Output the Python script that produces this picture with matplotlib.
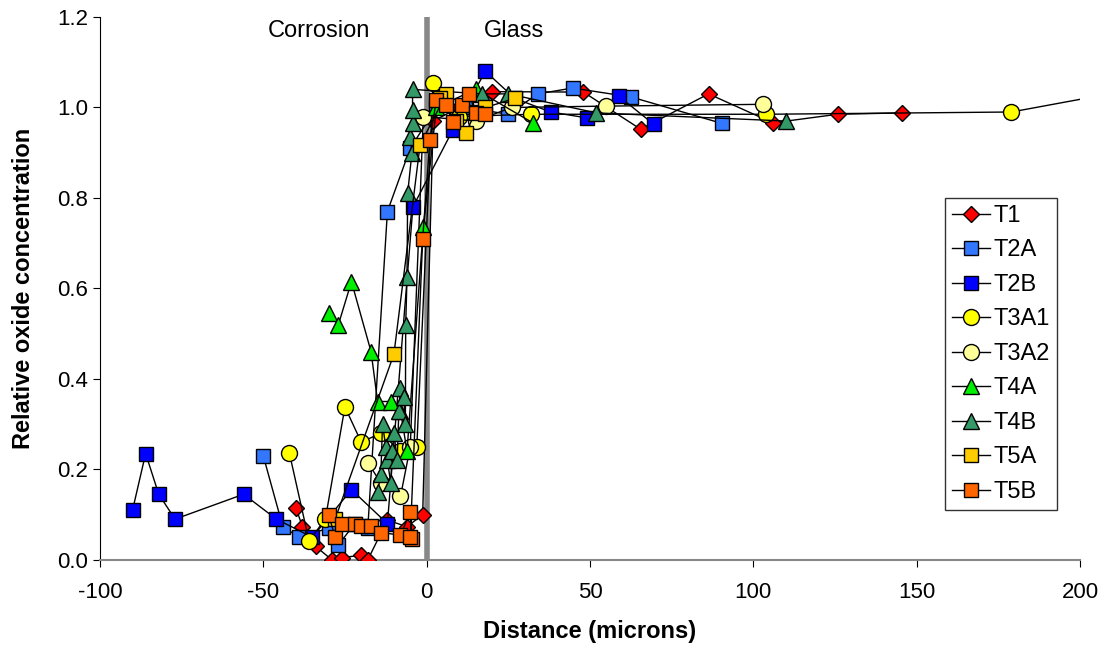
import matplotlib
matplotlib.use("Agg")
import matplotlib.pyplot as plt

plt.rcParams['font.family'] = ['Liberation Sans', 'DejaVu Sans']
plt.rcParams['axes.unicode_minus'] = False

# series data (distance in microns, relative concentration)
T1_x = [-40, -38, -34, -29, -26, -20, -18, -12, -6, -1.2, 2, 10, 20, 48, 65.5, 86.3, 106, 125.8, 145.4]
T1_y = [0.115, 0.073, 0.03, 0.0, 0.005, 0.01, 0.0, 0.088, 0.073, 0.10, 0.97, 1.0, 1.035, 1.034, 0.952, 1.03, 0.966, 0.985, 0.988]

T2A_x = [-50, -44, -39, -30, -27, -22, -18, -12, -5, 3, 12, 25, 34, 44.7, 62.7, 90.3]
T2A_y = [0.23, 0.073, 0.05, 0.07, 0.033, 0.08, 0.07, 0.77, 0.91, 1.0, 1.0, 0.985, 1.03, 1.043, 1.023, 0.965]

T2B_x = [-90, -86, -82, -77, -56, -46, -35, -23, -12, -4.2, 8, 18, 27, 38, 49, 58.8, 69.5]
T2B_y = [0.11, 0.235, 0.145, 0.09, 0.145, 0.09, 0.05, 0.155, 0.08, 0.78, 0.95, 1.08, 1.02, 0.99, 0.977, 1.025, 0.963]

T3A1_x = [-42, -36, -31, -25, -20, -14, -8, -3, 2, 10, 32, 104, 179, 215]
T3A1_y = [0.236, 0.042, 0.09, 0.338, 0.26, 0.28, 0.24, 0.25, 1.055, 0.98, 0.985, 0.985, 0.99, 1.038]

T3A2_x = [-18, -14, -8, -5, -1, 15, 26, 54.8, 103]
T3A2_y = [0.215, 0.17, 0.14, 0.25, 0.98, 0.97, 1.0, 1.003, 1.007]

T4A_x = [-30, -27, -23, -17, -15, -11, -8, -6, -1, 3, 15, 32.5]
T4A_y = [0.545, 0.52, 0.615, 0.46, 0.35, 0.35, 0.33, 0.24, 0.735, 1.0, 1.04, 0.966]

T4B_x = [-15, -14, -13.5, -12.5, -12, -11, -10.5, -10, -9, -8.5, -8, -7, -6.5, -6.4, -6, -5.8, -4.5, -5, -4.3, -4.3, -4.3, 17, 25, 52, 110]
T4B_y = [0.15, 0.19, 0.30, 0.25, 0.22, 0.17, 0.24, 0.28, 0.22, 0.33, 0.38, 0.36, 0.30, 0.52, 0.625, 0.81, 0.90, 0.935, 0.965, 0.995, 1.04, 1.03, 1.03, 0.988, 0.97]

T5A_x = [-28, -10, -2, 6, 4, 9, 12, 15, 18, 27]
T5A_y = [0.09, 0.455, 0.917, 1.03, 1.02, 0.97, 0.944, 0.99, 1.0, 1.02]

T5B_x = [-30, -28, -26, -22, -20, -17, -14, -8, -5, -4.5, -5, -1.2, 1, 3, 6, 8, 10.7, 13, 15, 18]
T5B_y = [0.10, 0.05, 0.08, 0.08, 0.075, 0.075, 0.06, 0.055, 0.105, 0.045, 0.05, 0.71, 0.928, 1.017, 1.005, 0.968, 1.005, 1.03, 0.988, 0.985]

series = [
    ("T1", T1_x, T1_y, "D", "#ff0000", 8),
    ("T2A", T2A_x, T2A_y, "s", "#3377ff", 10.5),
    ("T2B", T2B_x, T2B_y, "s", "#0000ff", 10.5),
    ("T3A1", T3A1_x, T3A1_y, "o", "#ffff00", 11.5),
    ("T3A2", T3A2_x, T3A2_y, "o", "#ffff99", 11.5),
    ("T4A", T4A_x, T4A_y, "^", "#00ee00", 11.5),
    ("T4B", T4B_x, T4B_y, "^", "#339966", 11.5),
    ("T5A", T5A_x, T5A_y, "s", "#ffcc00", 10.5),
    ("T5B", T5B_x, T5B_y, "s", "#ff6600", 10.5),
]

fig = plt.figure(figsize=(11.1, 6.54), dpi=100)
ax = fig.add_axes([0.09, 0.144, 0.883, 0.830])

ax.axvline(0, color="#888888", lw=4, zorder=1)

for name, xs, ys, mk, col, ms in series:
    ax.plot(xs, ys, color="black", lw=1, marker=mk, markersize=ms,
            markerfacecolor=col, markeredgecolor="black", markeredgewidth=1,
            label=name, zorder=3)

ax.set_xlim(-100, 200)
ax.set_ylim(0, 1.2)
ax.set_xticks(range(-100, 201, 50))
ax.set_yticks([0.0, 0.2, 0.4, 0.6, 0.8, 1.0, 1.2])
ax.set_yticklabels([f"{v:.1f}" for v in ax.get_yticks()])
ax.tick_params(labelsize=16, direction="out", length=5, color="black")
ax.tick_params(axis="x", pad=11)

for s in ["top", "right"]:
    ax.spines[s].set_visible(False)
ax.spines["left"].set_color("black")
ax.spines["bottom"].set_color("#888888")
ax.spines["bottom"].set_linewidth(1.5)

ax.set_xlabel("Distance (microns)", fontsize=17, fontweight="bold", labelpad=12)
ax.set_ylabel("Relative oxide concentration", fontsize=17, fontweight="bold", labelpad=16)

ax.text(-33, 1.17, "Corrosion", fontsize=17, ha="center", va="center")
ax.text(26.6, 1.17, "Glass", fontsize=17, ha="center", va="center")

leg = ax.legend(loc="upper left", bbox_to_anchor=(0.862, 0.667), fontsize=17,
                frameon=True, fancybox=False, edgecolor="black",
                handlelength=1.6, handletextpad=0.15, labelspacing=0.53,
                borderpad=0.3, borderaxespad=0)
leg.get_frame().set_linewidth(1)

fig.savefig("out.png", dpi=100)
